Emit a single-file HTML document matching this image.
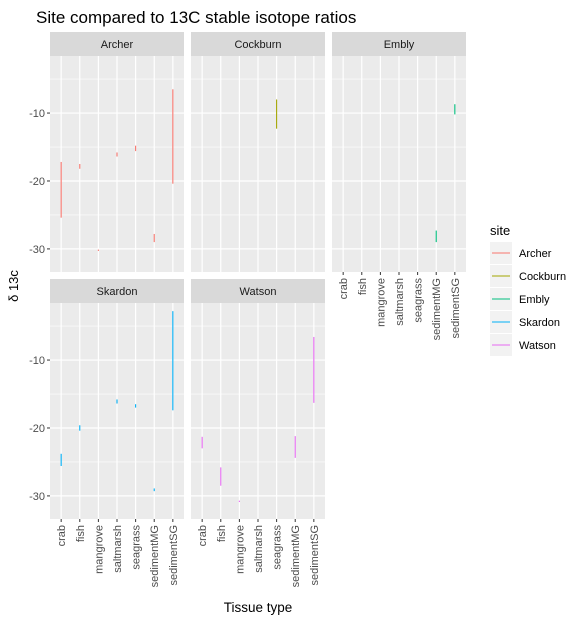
<!DOCTYPE html>
<html><head><meta charset="utf-8"><style>
body{margin:0;background:#fff;}
svg{display:block;font-family:"Liberation Sans",Arial,sans-serif;}
</style></head><body>
<svg id="chart" width="587" height="622"></svg>
<script>
const categories=["crab","fish","mangrove","saltmarsh","seagrass","sedimentMG","sedimentSG"];
const sites=["Archer","Cockburn","Embly","Skardon","Watson"];
const colors=["#F8766D","#A3A500","#00BF7D","#00B0F6","#E76BF3"];
const yTicks=[-10,-20,-30];
// [category index, min, max]
const archerRanges=[[0,-25.4,-17.2],[1,-18.2,-17.5],[2,-30.3,-30.1],[3,-16.4,-15.8],[4,-15.6,-14.8],[5,-29,-27.8],[6,-20.4,-6.5]];
const cockburnRanges=[[4,-12.3,-8]];
const emblyRanges=[[5,-29,-27.3],[6,-10.2,-8.7]];
const skardonRanges=[[0,-25.6,-23.8],[1,-20.4,-19.6],[3,-16.4,-15.8],[4,-17,-16.5],[5,-29.3,-28.9],[6,-17.4,-2.8]];
const watsonRanges=[[0,-23,-21.3],[1,-28.5,-25.8],[2,-30.9,-30.7],[5,-24.4,-21.2],[6,-16.3,-6.6]];
const allRanges=[archerRanges,cockburnRanges,emblyRanges,skardonRanges,watsonRanges];

const NS="http://www.w3.org/2000/svg";
const svg=document.getElementById('chart');
function mk(tag,attrs,parent,text){const e=document.createElementNS(NS,tag);for(const k in attrs)e.setAttribute(k,attrs[k]);if(text!==undefined)e.textContent=text;(parent||svg).appendChild(e);return e;}
const yMin=-33.4,yMax=-1.6,pw=134,ph=216;
const panels=[{x:50,y:56,xl:false},{x:191,y:56,xl:false},{x:332,y:56,xl:true},{x:50,y:303,xl:true},{x:191,y:303,xl:true}];
function yS(p,v){return p.y+(yMax-v)/(yMax-yMin)*ph;}
function xS(p,i){return p.x+(i+0.6)/7.2*pw;}

const t=mk('text',{x:36,y:23,'font-size':17,fill:'#000'},svg,'Site compared to 13C stable isotope ratios');


panels.forEach((p,pi)=>{
  const g=mk('g',{});
  
  
  mk('rect',{x:p.x,y:p.y-24,width:pw,height:24,fill:'#D9D9D9'},g);
  const st=mk('text',{x:p.x+pw/2,y:p.y-8,'font-size':11,fill:'#1A1A1A','text-anchor':'middle'},g,sites[pi]);
  
  mk('rect',{x:p.x,y:p.y,width:pw,height:ph,fill:'#EBEBEB'},g);
  [-5,-15,-25].forEach(v=>mk('line',{x1:p.x,x2:p.x+pw,y1:yS(p,v),y2:yS(p,v),stroke:'#fff','stroke-width':0.6},g));
  yTicks.forEach(v=>mk('line',{x1:p.x,x2:p.x+pw,y1:yS(p,v),y2:yS(p,v),stroke:'#fff','stroke-width':1.2},g));
  categories.forEach((c,i)=>mk('line',{x1:xS(p,i),x2:xS(p,i),y1:p.y,y2:p.y+ph,stroke:'#fff','stroke-width':1.2},g));
  allRanges[pi].forEach(r=>{
    const l=mk('line',{x1:xS(p,r[0]),x2:xS(p,r[0]),y1:yS(p,r[1]),y2:yS(p,r[2]),stroke:colors[pi],'stroke-width':1.1},g);
    
    
  });
  if(p.x===50){
    yTicks.forEach(v=>{
      mk('line',{x1:p.x-3,x2:p.x,y1:yS(p,v),y2:yS(p,v),stroke:'#333'},g);
      const tl=mk('text',{x:p.x-5,y:yS(p,v)+4,'font-size':11,fill:'#4D4D4D','text-anchor':'end'},g,String(v));
      
    });
  }
  if(p.xl){
    categories.forEach((c,i)=>{
      const x=xS(p,i);
      mk('line',{x1:x,x2:x,y1:p.y+ph,y2:p.y+ph+3,stroke:'#333'},g);
      const tl=mk('text',{x:0,y:4,'font-size':11,fill:'#4D4D4D','text-anchor':'end',transform:`translate(${x},${p.y+ph+6}) rotate(-90)`},g,c);
      
    });
  }
});
const yt=mk('text',{x:0,y:0,'font-size':13,fill:'#000','text-anchor':'middle',transform:'translate(18,286) rotate(-90)'},svg,'δ 13c');

const xt=mk('text',{x:258,y:612,'font-size':13.5,fill:'#000','text-anchor':'middle'},svg,'Tissue type');

const lg=mk('g',{});

mk('text',{x:490,y:235,'font-size':13,fill:'#000'},lg,'site');
sites.forEach((s,i)=>{
  const y=242+i*23;
  const e=mk('g',{},lg);
  
  
  mk('rect',{x:490,y:y,width:22,height:22,fill:'#F2F2F2'},e);
  mk('line',{x1:492,x2:510,y1:y+11,y2:y+11,stroke:colors[i],'stroke-width':1.1},e);
  mk('text',{x:519,y:y+15,'font-size':11,fill:'#000'},e,s);
});
</script>
</body></html>
